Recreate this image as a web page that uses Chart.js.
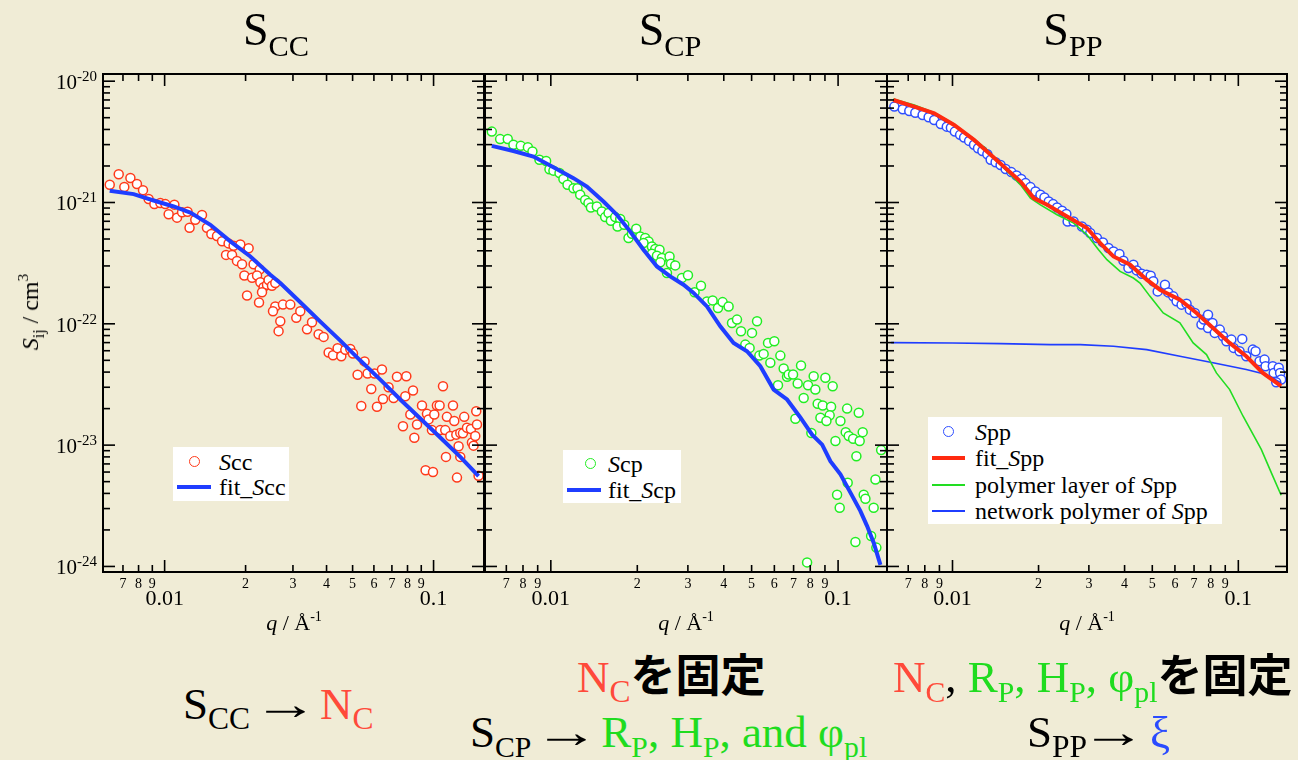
<!DOCTYPE html>
<html lang="ja">
<head>
<meta charset="UTF-8">
<title>S_CC / S_CP / S_PP fits</title>
<script src="https://cdn.jsdelivr.net/npm/chart.js"></script>
<style>
    body, html { margin: 0; padding: 0; }
    #stage {
        position: relative;
        width: 1298px;
        height: 760px;
        background: #f0ecd6;
        overflow: hidden;
        font-family: "Liberation Serif", "Times New Roman", serif;
        color: #000;
    }
    canvas { position: absolute; top: 0; }
    .t { position: absolute; white-space: nowrap; line-height: 1; }
    .sb { font-size: 66%; position: relative; top: 0.35em; }
    .sp { font-size: 64%; position: relative; top: -0.62em; }
    .title { font-size: 46px; transform: translateX(-50%); }
    .xt { font-size: 22px; transform: translateX(-50%); }
    .big { font-size: 45px; }
    .big .sb { font-size: 70%; top: 0.33em; }
    .big.tight .sb { font-size: 66%; }
    .arr { display: inline-block; transform: scaleX(1.45); margin: 0 12px 0 13px; }
    .jp { font-family: "Noto Sans CJK JP", sans-serif; font-weight: 700; }
    .red { color: #ff4a3a; }
    .grn { color: #1fdc1f; }
    .blu { color: #2a4bff; }
    .legend { position: absolute; background: #fff; font-size: 24px; }
    .legend .row { position: absolute; left: 0; right: 0; height: 0; }
    .legend .lbl { position: absolute; top: -12px; line-height: 24px; white-space: nowrap; }
    .legend .dot { position: absolute; top: -6px; width: 9px; height: 9px; border: 1.5px solid; border-radius: 50%; background: #fff; }
    .legend .seg { position: absolute; }
</style>
</head>
<body>
<div id="stage">
    <canvas id="c1" width="490" height="620" style="left:0"></canvas>
    <canvas id="c2" width="420" height="620" style="left:478px"></canvas>
    <canvas id="c3" width="418" height="620" style="left:880px"></canvas>

    <!-- panel titles -->
    <div class="t title" style="left:276px;top:7px">S<span class="sb">CC</span></div>
    <div class="t title" style="left:670px;top:7px">S<span class="sb">CP</span></div>
    <div class="t title" style="left:1073px;top:7px">S<span class="sb">PP</span></div>

    <!-- axis titles -->
    <div class="t" style="left:30px;top:312px;font-size:24px;transform:translate(-50%,-50%) rotate(-90deg)"><i>S</i><span class="sb">ij</span> / cm<span class="sp">3</span></div>
    <div class="t xt" style="left:294px;top:612px"><i>q</i> / Å<span class="sp">-1</span></div>
    <div class="t xt" style="left:686px;top:612px"><i>q</i> / Å<span class="sp">-1</span></div>
    <div class="t xt" style="left:1087px;top:612px"><i>q</i> / Å<span class="sp">-1</span></div>

    <!-- legends -->
    <div class="legend" style="left:173px;top:447px;width:116px;height:54px">
        <div class="row" style="top:15px"><span class="dot" style="left:16px;border-color:#ff3a1a"></span><span class="lbl" style="left:46px"><i>S</i>cc</span></div>
        <div class="row" style="top:40px"><span class="seg" style="left:4px;width:34px;top:-2px;height:4px;background:#1f3dff"></span><span class="lbl" style="left:46px">fit_<i>S</i>cc</span></div>
    </div>
    <div class="legend" style="left:563px;top:450px;width:118px;height:53px">
        <div class="row" style="top:14px"><span class="dot" style="left:22px;border-color:#22ee22"></span><span class="lbl" style="left:45px"><i>S</i>cp</span></div>
        <div class="row" style="top:40px"><span class="seg" style="left:4px;width:34px;top:-2px;height:4px;background:#1f3dff"></span><span class="lbl" style="left:45px">fit_<i>S</i>cp</span></div>
    </div>
    <div class="legend" style="left:928px;top:417px;width:294px;height:107px">
        <div class="row" style="top:15px"><span class="dot" style="left:15px;border-color:#2f4fff"></span><span class="lbl" style="left:47px"><i>S</i>pp</span></div>
        <div class="row" style="top:41px"><span class="seg" style="left:4px;width:33px;top:-2px;height:4px;background:#ff2a10"></span><span class="lbl" style="left:47px">fit_<i>S</i>pp</span></div>
        <div class="row" style="top:68px"><span class="seg" style="left:4px;width:33px;top:-1px;height:2px;background:#22dd22"></span><span class="lbl" style="left:47px">polymer layer of <i>S</i>pp</span></div>
        <div class="row" style="top:94px"><span class="seg" style="left:4px;width:33px;top:-1px;height:2px;background:#1f3dff"></span><span class="lbl" style="left:47px">network polymer of <i>S</i>pp</span></div>
    </div>

    <!-- notes under the panels -->
    <div class="t big" style="left:183px;top:682px">S<span class="sb">CC</span><span class="arr">→</span><span class="red">N<span class="sb">C</span></span></div>
    <div class="t big" style="left:577px;top:650px"><span class="red">N<span class="sb">C</span></span><span class="jp">を固定</span></div>
    <div class="t big tight" style="left:470px;top:710px">S<span class="sb">CP</span><span class="arr">→</span><span class="grn">R<span class="sb">P</span>, H<span class="sb">P</span>, and φ<span class="sb">pl</span></span></div>
    <div class="t big tight" style="left:893px;top:650px"><span class="red">N<span class="sb">C</span></span>, <span class="grn">R<span class="sb">P</span>, H<span class="sb">P</span>, φ<span class="sb">pl</span></span><span class="jp">を固定</span></div>
    <div class="t big" style="left:1027px;top:710px">S<span class="sb">PP</span><span class="arr" style="margin:0 14px 0 4px">→</span><span class="blu">ξ</span></div>
</div>

<script>
    // [q (1/Å), S (cm^3)]
    const sccPoints = [
        [0.00625,1.40e-21],[0.00675,1.71e-21],[0.00708,1.34e-21],[0.00746,1.59e-21],[0.00789,1.42e-21],
        [0.00831,1.26e-21],[0.00872,1.07e-21],[0.00916,9.7e-22],[0.00964,9.9e-22],[0.01006,9.7e-22],
        [0.01035,8.0e-22],[0.01087,9.6e-22],[0.01112,7.5e-22],[0.01161,8.3e-22],[0.01217,8.4e-22],
        [0.01238,6.2e-22],[0.0130,7.2e-22],[0.01377,7.9e-22],[0.01437,6.2e-22],[0.01492,5.5e-22],
        [0.01566,5.3e-22],[0.01635,4.8e-22],[0.01729,4.6e-22],[0.01805,4.4e-22],[0.01912,4.5e-22],
        [0.02053,4.2e-22],[0.01692,3.7e-22],[0.01781,3.7e-22],[0.01858,3.3e-22],[0.0194,3.1e-22],
        [0.02142,3.1e-22],[0.02256,2.8e-22],[0.01979,2.5e-22],[0.02114,2.4e-22],[0.02206,2.5e-22],
        [0.02269,2.2e-22],[0.02333,2.0e-22],[0.02402,2.1e-22],[0.02435,2.3e-22],[0.02507,2.06e-22],
        [0.02579,2.17e-22],[0.02302,1.82e-22],[0.02025,1.71e-22],[0.02244,1.50e-22],[0.02579,1.39e-22],
        [0.02529,1.27e-22],[0.02754,1.44e-22],[0.02933,1.44e-22],[0.02692,1.05e-22],[0.02653,8.7e-23],
        [0.03087,1.12e-22],[0.03195,1.27e-22],[0.03384,9.0e-23],[0.03532,1.03e-22],[0.03737,8.2e-23],
        [0.03901,7.8e-23],[0.04072,5.8e-23],[0.04227,5.5e-23],[0.04397,6.3e-23],[0.04539,5.4e-23],
        [0.04697,6.1e-23],[0.04901,6.2e-23],[0.05016,5.7e-23],[0.05217,3.8e-23],[0.0554,4.9e-23],
        [0.05683,3.9e-23],[0.06034,3.9e-23],[0.06429,4.2e-23],[0.05866,2.9e-23],[0.05385,2.1e-23],
        [0.06159,2.07e-23],[0.06485,2.4e-23],[0.06803,3.0e-23],[0.07101,2.45e-23],[0.0731,3.66e-23],
        [0.0792,3.7e-23],[0.0785,2.53e-23],[0.08387,2.82e-23],[0.08196,1.79e-23],[0.07695,1.43e-23],
        [0.08481,1.15e-23],[0.08679,1.48e-23],[0.09056,2.12e-23],[0.0945,1.81e-23],[0.0958,1.63e-23],
        [0.0986,1.33e-23],[0.1006,1.79e-23],[0.1029,2.12e-23],[0.1053,2.12e-23],[0.1084,3.06e-23],
        [0.1059,1.33e-23],[0.1105,1.33e-23],[0.1121,1.71e-23],[0.1181,2.12e-23],[0.1194,1.58e-23],
        [0.1154,1.19e-23],[0.1215,1.22e-23],[0.1257,1.26e-23],[0.1286,1.25e-23],[0.1239,9.8e-24],
        [0.1300,1.71e-23],[0.1331,1.39e-23],[0.1377,1.36e-23],[0.1389,1.05e-23],[0.1408,9.9e-24],
        [0.1429,1.19e-23],[0.1450,1.48e-23],[0.1441,1.90e-23],[0.1112,8.0e-24],[0.1257,8.0e-24],
        [0.0934,6.2e-24],[0.0995,6.0e-24],[0.1222,5.4e-24],[0.1470,5.6e-24]
    ];
    const fitScc = [
        [0.00625,1.248e-21],[0.00767,1.172e-21],[0.0091,1.039e-21],[0.0108,9.27e-22],[0.01246,8.27e-22],
        [0.01479,6.55e-22],[0.01755,4.78e-22],[0.02083,3.59e-22],[0.02471,2.54e-22],[0.02692,2.17e-22],
        [0.03195,1.507e-22],[0.03792,1.043e-22],[0.045,7.27e-23],[0.05341,4.98e-23],[0.06338,3.47e-23],
        [0.0752,2.38e-23],[0.08925,1.66e-23],[0.1059,1.156e-23],[0.1257,8.0e-24],[0.147,5.56e-24]
    ];

    const scpPoints = [
        [0.00623,3.84e-21],[0.00666,3.33e-21],[0.00708,3.34e-21],[0.00741,2.99e-21],[0.00786,2.93e-21],
        [0.00832,2.86e-21],[0.00863,2.63e-21],[0.00913,2.25e-21],[0.00963,2.20e-21],[0.00989,1.88e-21],
        [0.01021,1.83e-21],[0.01072,1.75e-21],[0.01106,1.56e-21],[0.01143,1.40e-21],[0.01199,1.31e-21],
        [0.01238,1.31e-21],[0.01265,1.157e-21],[0.01317,1.05e-21],[0.01352,9.9e-22],[0.01379,9.1e-22],
        [0.01446,9.27e-22],[0.01505,8.43e-22],[0.01546,7.58e-22],[0.01588,8.18e-22],[0.01618,7.07e-22],
        [0.01675,7.58e-22],[0.01744,7.30e-22],[0.01707,6.35e-22],[0.01801,6.55e-22],[0.01864,5.09e-22],
        [0.01915,5.53e-22],[0.01983,6.08e-22],[0.02047,5.25e-22],[0.02131,5.09e-22],[0.02189,4.78e-22],
        [0.02102,4.63e-22],[0.02248,4.34e-22],[0.02309,4.14e-22],[0.0239,4.08e-22],[0.02248,3.78e-22],
        [0.02341,3.64e-22],[0.02437,3.49e-22],[0.0259,3.59e-22],[0.02404,3.21e-22],[0.02537,2.62e-22],
        [0.02619,3.13e-22],[0.02711,3.03e-22],[0.0286,2.39e-22],[0.03002,2.51e-22],[0.03165,1.82e-22],
        [0.03332,2.06e-22],[0.03496,1.53e-22],[0.03658,1.56e-22],[0.03819,1.35e-22],[0.03963,1.51e-22],
        [0.04158,1.39e-22],[0.04273,1.017e-22],[0.04447,1.083e-22],[0.04592,8.68e-23],[0.05016,8.42e-23],
        [0.05222,1.049e-22],[0.04753,6.74e-23],[0.0492,6.33e-23],[0.05319,5.47e-23],[0.05506,5.65e-23],
        [0.05703,6.96e-23],[0.05998,7.18e-23],[0.05809,4.77e-23],[0.06295,5.47e-23],[0.06464,4.28e-23],
        [0.06642,3.66e-23],[0.06729,3.82e-23],[0.0697,3.82e-23],[0.0743,4.53e-23],[0.07233,3.22e-23],
        [0.06178,3.12e-23],[0.0786,3.12e-23],[0.08222,3.70e-23],[0.08334,2.87e-23],[0.0903,3.59e-23],
        [0.09576,3.06e-23],[0.0759,2.45e-23],[0.0849,2.19e-23],[0.0884,2.12e-23],[0.09454,2.07e-23],
        [0.1075,2.00e-23],[0.118,1.85e-23],[0.07101,1.65e-23],[0.08679,1.68e-23],[0.09348,1.76e-23],
        [0.1019,1.58e-23],[0.09108,1.58e-23],[0.0807,1.26e-23],[0.1063,1.28e-23],[0.1089,1.19e-23],
        [0.1128,1.13e-23],[0.1189,1.08e-23],[0.1218,1.28e-23],[0.0979,1.08e-23],[0.1158,8.1e-24],
        [0.1412,9.1e-24],[0.1349,5.2e-24],[0.108,4.9e-24],[0.0992,3.9e-24],[0.1013,3.05e-24],
        [0.1228,3.9e-24],[0.1245,3.62e-24],[0.133,3.05e-24],[0.1303,1.78e-24],[0.1359,1.43e-24],
        [0.1149,1.59e-24],[0.078,1.08e-24]
    ];
    const fitScp = [
        [0.00623,2.93e-21],[0.00741,2.66e-21],[0.0087,2.39e-21],[0.01021,1.956e-21],[0.01199,1.588e-21],
        [0.01335,1.354e-21],[0.01525,1.019e-21],[0.01698,7.92e-22],[0.01889,5.77e-22],[0.02102,4.08e-22],
        [0.02341,2.97e-22],[0.02604,2.46e-22],[0.02897,2.10e-22],[0.0314,1.796e-22],[0.03496,1.39e-22],
        [0.0389,9.54e-23],[0.04327,6.96e-23],[0.04818,5.94e-23],[0.05362,4.47e-23],[0.05966,2.87e-23],
        [0.06642,2.38e-23],[0.07389,1.69e-23],[0.0812,1.22e-23],[0.088,1.01e-23],[0.094,7.38e-24],
        [0.1019,5.74e-24],[0.1104,4.06e-24],[0.1196,2.86e-24],[0.1262,2.15e-24],[0.133,1.57e-24],
        [0.1404,1.03e-24]
    ];

    const sppPoints = [
        [0.00626,6.17e-21],[0.0067,5.87e-21],[0.00706,5.68e-21],[0.00741,5.50e-21],[0.00786,5.27e-21],
        [0.00825,5.05e-21],[0.00863,4.79e-21],[0.0091,4.44e-21],[0.00955,4.22e-21],[0.00987,4.14e-21],
        [0.01019,3.84e-21],[0.01063,3.61e-21],[0.01098,3.43e-21],[0.01143,3.22e-21],[0.01189,2.99e-21],
        [0.01228,2.80e-21],[0.01272,2.66e-21],[0.01324,2.50e-21],[0.0136,2.25e-21],[0.01415,2.15e-21],
        [0.01473,2.04e-21],[0.01534,1.89e-21],[0.01606,1.78e-21],[0.01675,1.67e-21],[0.0174,1.56e-21],
        [0.01801,1.445e-21],[0.01874,1.339e-21],[0.01951,1.232e-21],[0.02031,1.157e-21],[0.02097,1.10e-21],
        [0.02171,1.019e-21],[0.02248,9.70e-22],[0.02322,9.09e-22],[0.02417,8.55e-22],[0.02502,8.03e-22],
        [0.02528,6.98e-22],[0.02653,6.98e-22],[0.02838,6.35e-22],[0.02954,5.96e-22],[0.03033,5.60e-22],
        [0.03201,5.09e-22],[0.03359,4.69e-22],[0.03513,4.21e-22],[0.03658,3.95e-22],[0.03837,3.76e-22],
        [0.03963,3.31e-22],[0.04125,2.885e-22],[0.04294,3.07e-22],[0.04412,2.756e-22],[0.04592,2.59e-22],
        [0.0478,2.54e-22],[0.04936,2.49e-22],[0.0504,2.24e-22],[0.05222,1.85e-22],[0.05537,2.10e-22],
        [0.05686,1.816e-22],[0.05918,1.684e-22],[0.06081,1.532e-22],[0.0633,1.439e-22],[0.06589,1.466e-22],
        [0.06766,1.309e-22],[0.07043,1.229e-22],[0.0743,9.85e-23],[0.07569,1.083e-22],[0.07835,1.19e-22],
        [0.07835,9.25e-23],[0.0812,1.017e-22],[0.0827,8.42e-23],[0.0861,8.96e-23],[0.0884,7.89e-23],
        [0.09084,7.18e-23],[0.09454,7.41e-23],[0.0963,6.33e-23],[0.1032,7.51e-23],[0.101,5.94e-23],
        [0.1066,5.40e-23],[0.1124,6.13e-23],[0.1149,5.94e-23],[0.1186,4.91e-23],[0.1235,5.07e-23],
        [0.1245,4.47e-23],[0.132,4.47e-23],[0.133,3.94e-23],[0.1385,4.34e-23],[0.140,3.94e-23],
        [0.1412,3.47e-23],[0.1357,3.30e-23]
    ];
    const fitSpp = [
        [0.00621,7.00e-21],[0.00735,6.17e-21],[0.00863,5.44e-21],[0.01013,4.36e-21],[0.01189,3.28e-21],
        [0.0136,2.47e-21],[0.01555,1.858e-21],[0.0173,1.489e-21],[0.01924,1.087e-21],[0.02143,9.57e-22],
        [0.02516,7.67e-22],[0.02954,6.16e-22],[0.03287,4.63e-22],[0.03658,3.59e-22],[0.04182,3.07e-22],
        [0.0478,2.31e-22],[0.05319,1.91e-22],[0.06245,1.58e-22],[0.0714,1.229e-22],[0.08155,9.25e-23],
        [0.09326,6.96e-23],[0.1066,5.40e-23],[0.1218,3.94e-23],[0.1412,3.06e-23]
    ];
    const polymerLayer = [
        [0.00621,7.14e-21],[0.00735,6.37e-21],[0.00863,5.50e-21],[0.0100,4.50e-21],[0.01158,3.49e-21],
        [0.01306,2.80e-21],[0.01396,2.32e-21],[0.01555,1.80e-21],[0.0173,1.398e-21],[0.01874,1.087e-21],
        [0.02031,9.57e-22],[0.02322,7.92e-22],[0.02653,6.77e-22],[0.02954,5.42e-22],[0.03243,4.08e-22],
        [0.03469,3.376e-22],[0.03858,2.704e-22],[0.04294,2.385e-22],[0.0453,2.17e-22],[0.04909,1.684e-22],
        [0.0546,1.229e-22],[0.06245,1.017e-22],[0.0695,6.96e-23],[0.07737,5.58e-23],[0.0838,3.94e-23],
        [0.09326,2.87e-23],[0.1039,1.73e-23],[0.1203,9.22e-24],[0.132,5.56e-24],[0.1412,3.86e-24]
    ];
    const networkPolymer = [
        [0.0061,7.00e-23],[0.0100,6.94e-23],[0.01473,6.87e-23],[0.022,6.74e-23],[0.028,6.74e-23],
        [0.03658,6.53e-23],[0.0478,6.13e-23],[0.06245,5.40e-23],[0.08155,4.77e-23],[0.1066,4.20e-23],
        [0.1252,3.82e-23],[0.1412,3.26e-23]
    ];

    // axis limits
    const yMin = 9.12e-25, yMax = 1.146e-20;
    const xMin = 0.0059;
    const xMaxCC = 0.154, xMax = 0.148;
    const xMajorLabels = { '0.01': '0.01', '0.1': '0.1' };
    const yLabelExps = [-20, -21, -22, -23, -24];

    const toXY = pts => pts.map(p => ({ x: p[0], y: p[1] }));

    // frame with inward ticks on all four sides + tick labels
    const frameTicks = {
        id: 'frameTicks',
        afterDraw(chart, args, opts) {
            const ctx = chart.ctx;
            const a = chart.chartArea;
            const xs = chart.scales.x, ys = chart.scales.y;
            ctx.save();
            ctx.strokeStyle = '#000';
            ctx.fillStyle = '#000';
            ctx.lineWidth = 1.6;
            const seg = (x1, y1, x2, y2) => { ctx.beginPath(); ctx.moveTo(x1, y1); ctx.lineTo(x2, y2); ctx.stroke(); };

            ctx.textAlign = 'center';
            ctx.textBaseline = 'alphabetic';
            [1e-3, 1e-2, 1e-1].forEach(dec => {
                for (let m = 1; m <= 9; m++) {
                    const v = dec * m;
                    if (v < xs.min * 1.03 || v > xs.max / 1.03) continue;
                    const px = xs.getPixelForValue(v);
                    const len = m === 1 ? 12 : 7;
                    seg(px, a.bottom, px, a.bottom - len);
                    seg(px, a.top, px, a.top + len);
                    if (m === 1) {
                        ctx.font = '22px "Liberation Serif"';
                        ctx.fillText(xMajorLabels[String(+v.toPrecision(3))] || '', px, a.bottom + 33);
                    } else {
                        ctx.font = '14px "Liberation Serif"';
                        ctx.fillText(String(m), px, a.bottom + 16);
                    }
                }
            });

            for (let e = -25; e <= -20; e++) {
                for (let m = 1; m <= 9; m++) {
                    const v = m * Math.pow(10, e);
                    if (v < ys.min || v > ys.max) continue;
                    const py = ys.getPixelForValue(v);
                    const len = m === 1 ? 12 : 7;
                    seg(a.left, py, a.left + len, py);
                    seg(a.right, py, a.right - len, py);
                }
            }

            if (opts.yLabels) {
                ctx.textAlign = 'right';
                yLabelExps.forEach(e => {
                    const py = ys.getPixelForValue(Math.pow(10, e));
                    const sup = String(e);
                    ctx.font = '15px "Liberation Serif"';
                    const w = ctx.measureText(sup).width;
                    ctx.fillText(sup, a.left - 6, py);
                    ctx.font = '21px "Liberation Serif"';
                    ctx.fillText('10', a.left - 6 - w, py + 8);
                });
            }

            ctx.lineWidth = 2;
            ctx.strokeRect(a.left, a.top, a.right - a.left, a.bottom - a.top);
            ctx.restore();
        }
    };

    function makePanel(id, pad, xMaxVal, datasets, yLabels) {
        return new Chart(document.getElementById(id), {
            type: 'scatter',
            data: { datasets: datasets },
            options: {
                responsive: false,
                animation: false,
                events: [],
                layout: { padding: pad },
                scales: {
                    x: { type: 'logarithmic', min: xMin, max: xMaxVal, display: false },
                    y: { type: 'logarithmic', min: yMin, max: yMax, display: false }
                },
                plugins: {
                    legend: { display: false },
                    tooltip: { enabled: false },
                    frameTicks: { yLabels: yLabels }
                }
            },
            plugins: [frameTicks]
        });
    }

    const lineSet = (pts, color, width) => ({
        data: toXY(pts), showLine: true, borderColor: color, borderWidth: width,
        pointRadius: 0, tension: 0, fill: false
    });
    const dotSet = (pts, color) => ({
        data: toXY(pts), showLine: false, pointRadius: 4.5, pointBorderWidth: 1.5,
        pointBorderColor: color, pointBackgroundColor: '#ffffff'
    });

    // first dataset is drawn on top
    makePanel('c1', { left: 103, top: 74, right: 6, bottom: 48 }, xMaxCC, [
        lineSet(fitScc, '#1f3dff', 4),
        dotSet(sccPoints, '#ff3a1a')
    ], true);

    makePanel('c2', { left: 7, top: 74, right: 11, bottom: 48 }, xMax, [
        lineSet(fitScp, '#1f3dff', 4),
        dotSet(scpPoints, '#22ee22')
    ], false);

    makePanel('c3', { left: 7, top: 74, right: 11, bottom: 48 }, xMax, [
        lineSet(fitSpp, '#ff2a10', 4),
        lineSet(polymerLayer, '#22dd22', 1.6),
        lineSet(networkPolymer, '#1f3dff', 1.6),
        dotSet(sppPoints, '#2f4fff')
    ], false);
</script>
</body>
</html>
